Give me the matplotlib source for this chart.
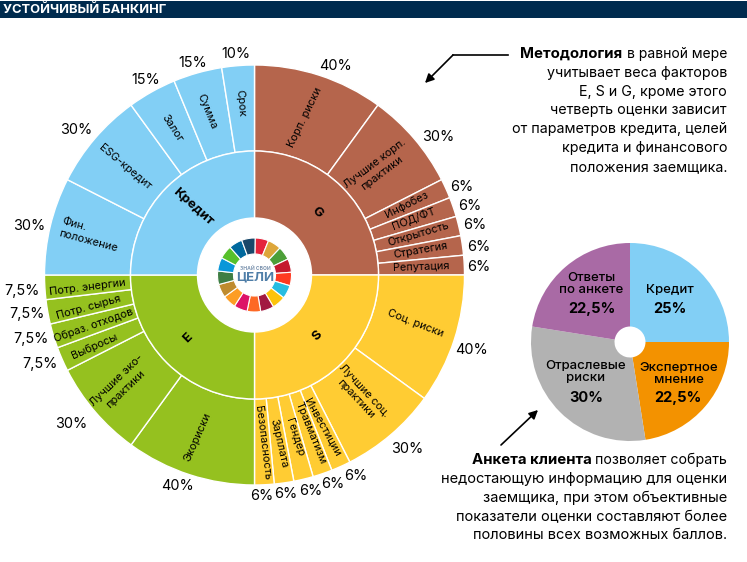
import matplotlib
matplotlib.use('Agg')
import matplotlib.pyplot as plt

H = 562
plt.rcParams['font.family'] = ['Inter', 'DejaVu Sans']

# doughnut data, clockwise from 12 o'clock
groups = ['G', 'S', 'E', 'Кредит']
group_values = [25, 25, 25, 25]
group_colors = ['#B5654C', '#FFCC33', '#95C11F', '#82CFF5']

g_labels = ['Корп. риски', 'Лучшие корп.\nпрактики', 'Инфобез', 'ПОД/ФТ', 'Открытость', 'Стратегия', 'Репутация']
g_values = [40, 30, 6, 6, 6, 6, 6]
s_labels = ['Соц. риски', 'Лучшие соц.\nпрактики', 'Инвестиции', 'Травматизм', 'Гендер', 'Зарплата', 'Безопасность']
s_values = [40, 30, 6, 6, 6, 6, 6]
e_labels = ['Экориски', 'Лучшие эко-\nпрактики', 'Выбросы', 'Образ. отходов', 'Потр. сырья', 'Потр. энергии']
e_values = [40, 30, 7.5, 7.5, 7.5, 7.5]
c_labels = ['Фин.\nположение', 'ESG-кредит', 'Залог', 'Сумма', 'Срок']
c_values = [30, 30, 15, 15, 10]

pie_labels = ['Кредит', 'Экспертное\nмнение', 'Отраслевые\nриски', 'Ответы\nпо анкете']
pie_values = [25, 22.5, 30, 22.5]
pie_colors = ['#82CFF5', '#F39200', '#B2B2B2', '#A96AA5']

sdg_colors = ['#E5243B', '#DDA63A', '#4C9F38', '#C5192D', '#FF3A21', '#26BDE2', '#FCC30B', '#A21942', '#FD6925',
              '#DD1367', '#FD9D24', '#BF8B2E', '#3F7E44', '#0A97D9', '#56C02B', '#00689D', '#19486A']

# layout: text anchors in pixels (x, y from top), rotation in degrees
g_lab_pos = [(305, 117, 64), (378, 168, 37), (407, 205, 27), (413, 218, 21), (418, 234, 16.5), (421, 250, 10), (421, 267, 2)]
s_lab_pos = [(415, 323, -21.5), (360, 395, -47), (323, 427, -61), (311, 433, -68), (295, 437, -72), (279, 443, -77), (263, 443, -83)]
e_lab_pos = [(198, 437, 66), (121, 385, 44), (94, 346, 24), (94, 325, 19.5), (89, 307, 15.5), (87, 287, 7)]
c_lab_pos = [(90, 235, -15), (125, 167, -40), (172, 128, -57), (207, 111, -68), (241, 103, -85)]

g_pct_pos = [(335, 66), (438, 137), (462, 187), (470, 206), (475, 225), (479, 247), (479, 267)]
s_pct_pos = [(472, 350), (407, 449), (356, 476), (333, 484), (311, 491), (286, 494), (262, 496)]
e_pct_pos = [(178, 486), (71, 424), (40, 364), (31, 339), (27, 314), (22, 291)]
c_pct_pos = [(29, 226), (76, 130), (146, 80), (193, 63), (236, 54)]

fig = plt.figure(figsize=(7.47, 5.62), dpi=100)
ax = fig.add_axes([0, 0, 1, 1])

center = (254.5, H - 275)
kw = dict(startangle=90, counterclock=False, center=center)

outer_values = []
outer_colors = []
for vals, col in zip([g_values, s_values, e_values, c_values], group_colors):
    outer_values += vals
    outer_colors += [col] * len(vals)

ax.pie(outer_values, radius=210, colors=outer_colors, wedgeprops=dict(width=86, edgecolor='white', linewidth=1.0), **kw)
ax.pie(group_values, radius=124, colors=group_colors, wedgeprops=dict(width=67, edgecolor='white', linewidth=1.0), **kw)
ax.pie([1] * 17, radius=37, colors=sdg_colors, wedgeprops=dict(width=16, edgecolor='white', linewidth=0.8),
       startangle=89, counterclock=False, center=center)

# small pie
pie_center = (630, H - 342)
ax.pie(pie_values, radius=99, colors=pie_colors, wedgeprops=dict(width=83.5), startangle=90, counterclock=False, center=pie_center)

ax.set_xlim(0, 747)
ax.set_ylim(0, H)
ax.set_aspect('equal')
ax.axis('off')


def T(x, y, s, **kw):
    kw.setdefault('ha', 'center')
    kw.setdefault('va', 'center')
    kw.setdefault('color', 'black')
    return ax.text(x, H - y, s, **kw)


# header
ax.axhspan(H - 18, H - 1, color='#002B4E', lw=0)
T(3, 10, 'УСТОЙЧИВЫЙ БАНКИНГ', ha='left', color='white', fontsize=9.3, fontweight='bold')

# logo
T(255, 268, 'ЗНАЙ СВОИ', fontsize=3.6, color='#7C93AE', fontweight='bold')
T(255, 277, 'ЦЕЛИ', fontsize=9.5, color='#4F7EA8', fontweight='bold')

# group labels
T(193, 207, 'Кредит', fontsize=9.5, fontweight='bold', rotation=-42)
T(317, 212, 'G', fontsize=9.5, fontweight='bold', rotation=-45)
T(317, 336, 'S', fontsize=9.5, fontweight='bold', rotation=45)
T(188, 338, 'E', fontsize=9.5, fontweight='bold', rotation=45)

# sector labels and percents
for labels, vals, lab_pos, pct_pos in [(g_labels, g_values, g_lab_pos, g_pct_pos),
                                       (s_labels, s_values, s_lab_pos, s_pct_pos),
                                       (e_labels, e_values, e_lab_pos, e_pct_pos),
                                       (c_labels, c_values, c_lab_pos, c_pct_pos)]:
    for lab, v, lp, pp in zip(labels, vals, lab_pos, pct_pos):
        T(lp[0], lp[1], lab, fontsize=7.9, rotation=lp[2], rotation_mode='anchor', linespacing=1.25, multialignment='left' if lab.startswith('Фин') else 'center')
        T(pp[0], pp[1], f'{v}%'.replace('.', ','), fontsize=10.4)

# small pie labels
pie_lab_pos = [(670, 290), (679, 374), (586, 372), (591, 284)]
pie_pct_pos = [(670, 309), (678, 398), (586, 398), (592, 309)]
for lab, v, lp, pp in zip(pie_labels, pie_values, pie_lab_pos, pie_pct_pos):
    T(lp[0], lp[1], lab, fontsize=9.5, fontweight='medium', linespacing=1.1)
    T(pp[0], pp[1], f'{v}%'.replace('.', ','), fontsize=10.5, fontweight='bold')

# top note
T(622, 54, 'Методология', ha='right', fontsize=10.8, fontweight='bold')
T(727, 54, 'в равной мере', ha='right', fontsize=10)
for y, line in zip([73, 92, 110, 129, 148, 167],
                   ['учитывает веса факторов', 'E, S и G, кроме этого', 'четверть оценки зависит',
                    'от параметров кредита, целей', 'кредита и финансового', 'положения заемщика.']):
    T(727, y, line, ha='right', fontsize=10.3)

# bottom note
T(592, 460, 'Анкета клиента', ha='right', fontsize=10.8, fontweight='bold')
T(727, 460, 'позволяет собрать', ha='right', fontsize=10.2)
for y, line in zip([479, 498, 517, 535],
                   ['недостающую информацию для оценки', 'заемщика, при этом объективные',
                    'показатели оценки составляют более', 'половины всех возможных баллов.']):
    T(727, y, line, ha='right', fontsize=10.5)

# arrows
ax.plot([508, 453], [H - 55, H - 55], color='black', lw=1.2)
ax.annotate('', xy=(425, H - 83), xytext=(453, H - 55),
            arrowprops=dict(arrowstyle='-|>', color='black', lw=1.2, mutation_scale=13, shrinkA=0, shrinkB=0))
ax.annotate('', xy=(538, H - 410), xytext=(501, H - 445),
            arrowprops=dict(arrowstyle='-|>', color='black', lw=1.2, mutation_scale=13, shrinkA=0, shrinkB=0))

fig.savefig('out.png', dpi=100)
